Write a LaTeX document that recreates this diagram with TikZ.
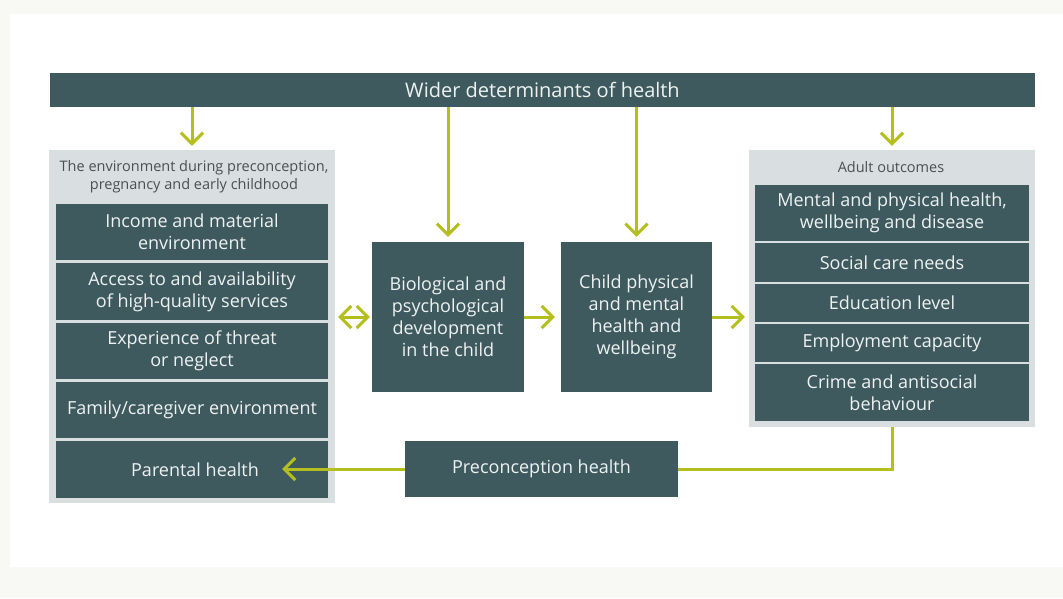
\documentclass[tikz,border=0pt]{standalone}
\usepackage{fontspec}
\setmainfont{Open Sans}
\usepackage{tikz}
\usetikzlibrary{arrows.meta}

% colours
\definecolor{slate}{HTML}{3E5A5F}
\definecolor{panelgray}{HTML}{D9DEE0}
\definecolor{lime}{HTML}{B4BE1C}
\definecolor{paper}{HTML}{F8F9F4}
\definecolor{boxtext}{HTML}{EEF2F2}
\definecolor{headtext}{HTML}{4A4F50}

\begin{document}
\begin{tikzpicture}[x=1pt, y=-1pt,
    darkbox/.style={fill=slate, text=boxtext, align=center, inner sep=0pt,
        font=\fontsize{18}{22}\selectfont},
    panel/.style={fill=panelgray, inner sep=0pt},
    head/.style={text=headtext, align=center, inner sep=0pt,
        font=\fontsize{14.5}{18}\selectfont},
    flow/.style={draw=lime, line width=3pt,
        -{Straight Barb[length=11pt, width=22pt]}},
    both/.style={draw=lime, line width=3pt,
        {Straight Barb[length=11pt, width=22pt]}-{Straight Barb[length=11pt, width=22pt]}}]

    % Page background
    \fill[paper] (0,0) rectangle (1063,598);
    \fill[white] (10,14) rectangle (1063,567);

    % Top bar
    \node[darkbox, minimum width=985, minimum height=34,
        font=\fontsize{20}{24}\selectfont] (wider) at (542.5,90) {Wider determinants of health};

    % Left panel: early environment
    \node[panel, minimum width=286, minimum height=353] (envpanel) at (192,326.5) {};
    \node[head] (envhead) at (194,177) {The environment during preconception,\\pregnancy and early childhood};
    \node[darkbox, minimum width=272, minimum height=56] (income) at (192,232) {Income and material\\environment};
    \node[darkbox, minimum width=272, minimum height=57] (access) at (192,291.5) {Access to and availability\\of high-quality services};
    \node[darkbox, minimum width=272, minimum height=56] (threat) at (192,351) {Experience of threat\\or neglect};
    \node[darkbox, minimum width=272, minimum height=56] (family) at (192,410) {Family/caregiver environment};
    \node[darkbox, minimum width=272, minimum height=57] (parental) at (192,469.5) {\hspace*{6pt}Parental health};

    % Middle boxes
    \node[darkbox, minimum width=152, minimum height=150] (bio) at (448,317) {Biological and\\psychological\\development\\in the child};
    \node[darkbox, minimum width=151, minimum height=150] (child) at (636.5,317) {Child physical\\and mental\\health and\\wellbeing};

    % Right panel: adult outcomes
    \node[panel, minimum width=286, minimum height=277] (outpanel) at (892,288.5) {};
    \node[head] (outhead) at (891,167) {Adult outcomes};
    \node[darkbox, minimum width=274, minimum height=56] (mental) at (892,213) {Mental and physical health,\\wellbeing and disease};
    \node[darkbox, minimum width=274, minimum height=39] (social) at (892,262.5) {Social care needs};
    \node[darkbox, minimum width=274, minimum height=38] (educ) at (892,303) {Education level};
    \node[darkbox, minimum width=274, minimum height=38] (employ) at (892,343) {Employment capacity};
    \node[darkbox, minimum width=274, minimum height=57] (crime) at (892,392.5) {Crime and antisocial\\behaviour};

    % Bottom box
    \node[darkbox, minimum width=273, minimum height=56] (precon) at (541.5,469) {Preconception health};

    % Arrows from the top bar
    \draw[flow, shorten >=4pt] (wider.south -| envpanel.north) -- (envpanel.north);
    \draw[flow, shorten >=5pt] (wider.south -| bio.north) -- (bio.north);
    \draw[flow, shorten >=5pt] (wider.south -| child.north) -- (child.north);
    \draw[flow, shorten >=4pt] (wider.south -| outpanel.north) -- (outpanel.north);

    % Arrows across the middle
    \draw[both, shorten <=3pt, shorten >=2pt] (envpanel.east |- bio.west) -- (bio.west);
    \draw[flow, shorten >=6pt] (bio.east) -- (child.west);
    \draw[flow, shorten >=4pt] (child.east) -- (child.east -| outpanel.west);

    % Loop back to parental health (arrow runs into the box)
    \draw[draw=lime, line width=3pt] (outpanel.south) -- (outpanel.south |- precon.east) -- (precon.east);
    \draw[flow, shorten >=-46pt] (precon.west) -- (parental.east |- precon.west);

\end{tikzpicture}
\end{document}
